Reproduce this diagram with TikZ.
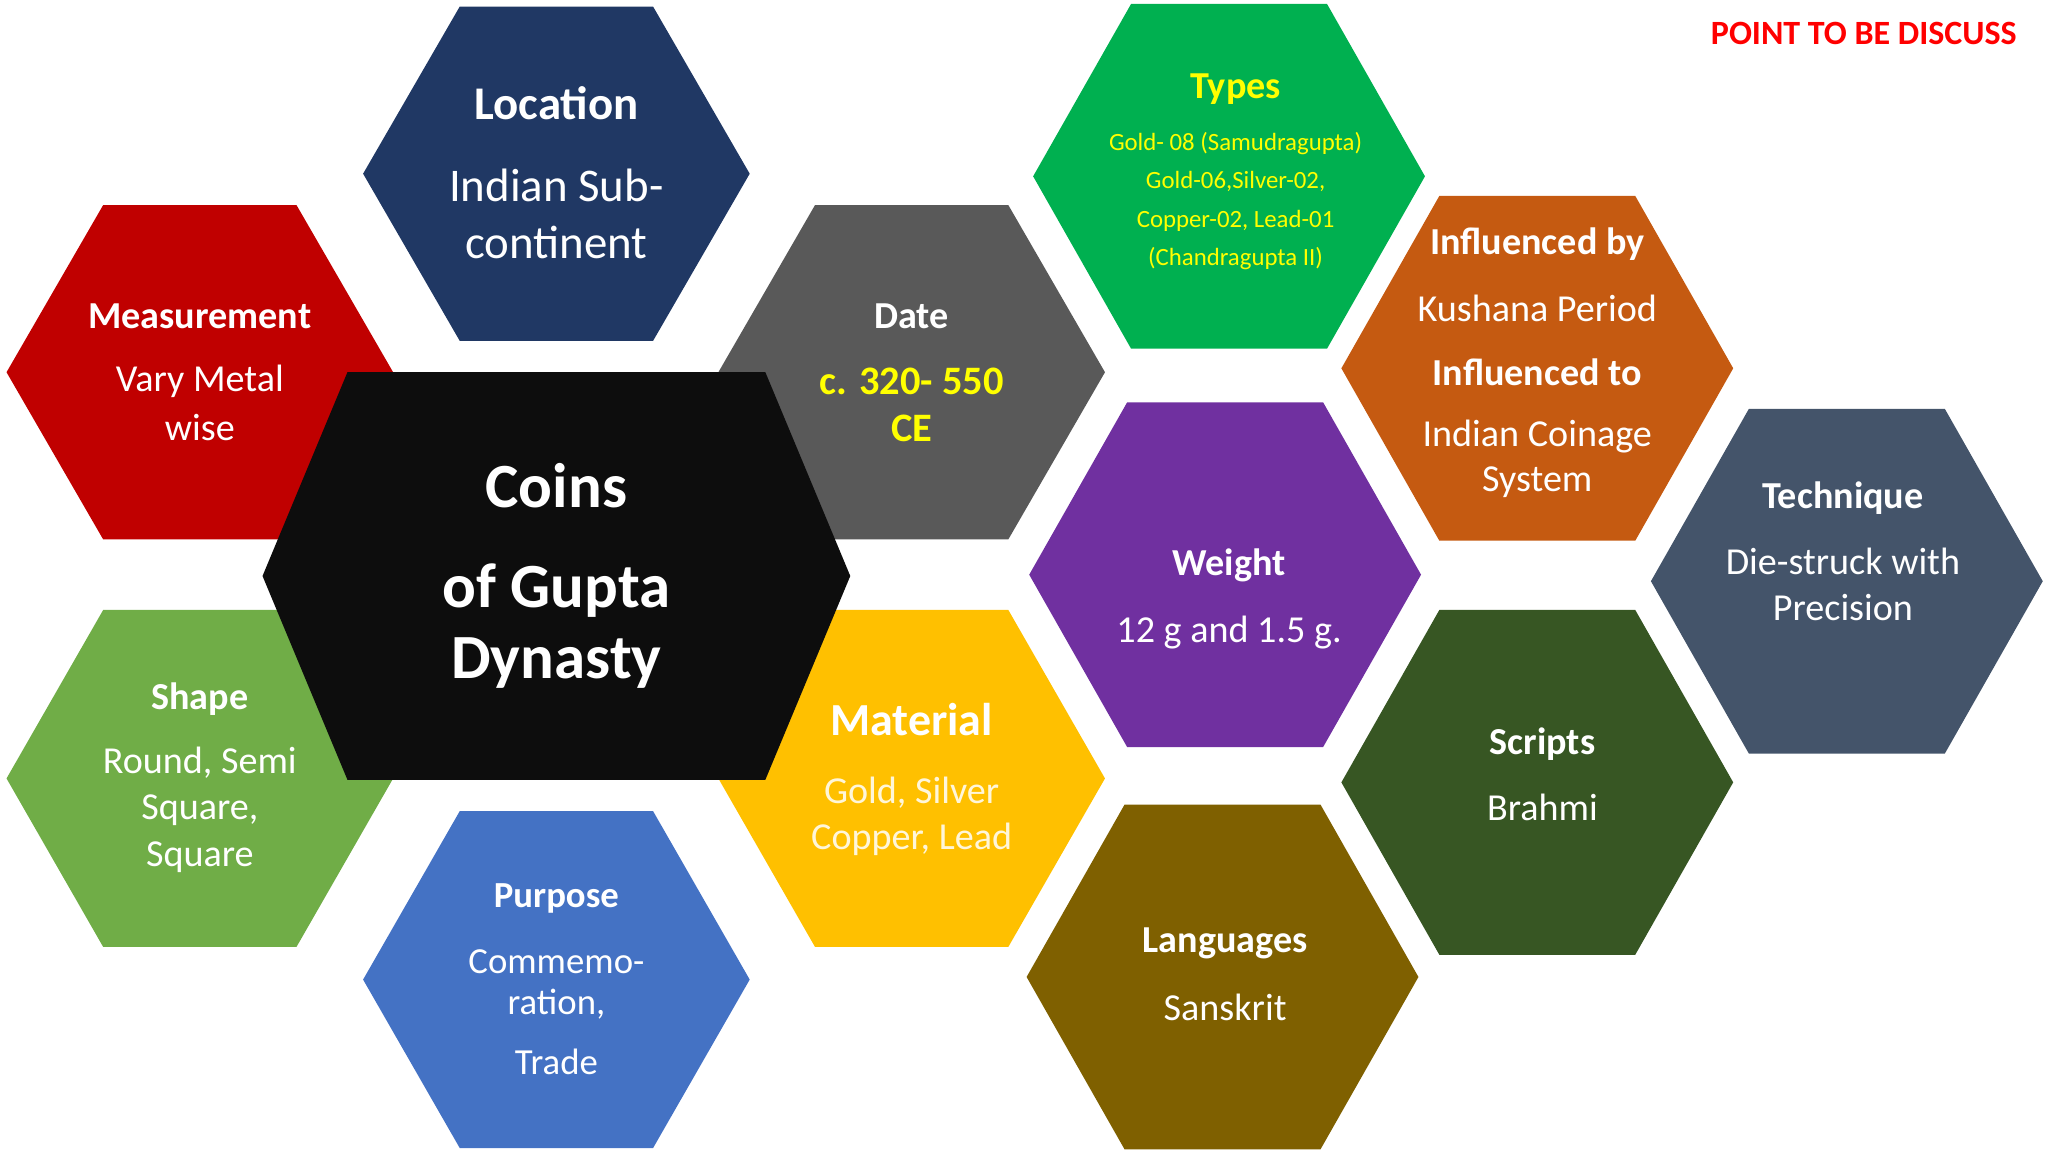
\documentclass[tikz,border=0pt]{standalone}
\usepackage{fontspec}
\setmainfont{Carlito}
\newcommand{\hexa}[7]{%
\fill[#7] ({#2-#4},#3) -- ({#2-#4+#6},{#3-#5}) -- ({#2+#4-#6},{#3-#5}) -- ({#2+#4},#3) -- ({#2+#4-#6},{#3+#5}) -- ({#2-#4+#6},{#3+#5}) -- cycle;
\coordinate (#1) at (#2,#3);}
\newcommand{\fs}[1]{\fontsize{#1pt}{#1pt}\selectfont}
\definecolor{cloc}{HTML}{203864}
\definecolor{cmea}{HTML}{C00000}
\definecolor{ccoin}{HTML}{0D0D0D}
\definecolor{cdate}{HTML}{595959}
\definecolor{ctyp}{HTML}{00B050}
\definecolor{cinf}{HTML}{C55A11}
\definecolor{cwei}{HTML}{7030A0}
\definecolor{ctec}{HTML}{44546A}
\definecolor{csha}{HTML}{70AD47}
\definecolor{cmat}{HTML}{FFC000}
\definecolor{cpur}{HTML}{4472C4}
\definecolor{clan}{HTML}{7F6000}
\definecolor{cscr}{HTML}{375623}
\definecolor{cyel}{HTML}{FFFF00}
\tikzset{tt/.style={text=white,inner sep=0pt,font=\fs{8.3}\bfseries},
bb/.style={text=white,inner sep=0pt,font=\fs{8.3}}}
\begin{document}
\begin{tikzpicture}[x=0.01cm,y=-0.01cm]
\useasboundingbox (0,0) rectangle (1568,882);
\hexa{loc}{426}{133}{148}{128}{74}{cloc}
\hexa{mea}{153}{285}{148}{128}{74}{cmea}
\hexa{date}{698}{285}{148}{128}{74}{cdate}
\hexa{typ}{941}{135}{150}{132}{75}{ctyp}
\hexa{inf}{1177}{282}{150}{132}{75}{cinf}
\hexa{wei}{938}{440}{150}{132}{75}{cwei}
\hexa{tec}{1414}{445}{150}{132}{75}{ctec}
\hexa{sha}{153}{596}{148}{129}{74}{csha}
\hexa{mat}{698}{596}{148}{129}{74}{cmat}
\hexa{pur}{426}{750}{148}{129}{74}{cpur}
\hexa{lan}{936}{748}{150}{132}{75}{clan}
\hexa{scr}{1177}{599}{150}{132}{75}{cscr}
\hexa{coin}{426}{441}{225}{156}{65}{ccoin}
% texts
\node[tt,font=\fs{10.2}\bfseries] (t1) at (426,79) {Location};
\node[bb,font=\fs{10.2}] (t2) at (426,142) {Indian Sub-};
\node[bb,font=\fs{10.2}] (t3) at (426,186) {continent};
\node[tt] (m1) at (153,242) {Measurement};
\node[bb] (m2) at (153,292) {Vary Metal};
\node[bb] (m3) at (153,327) {wise};
\node[tt,font=\fs{13.7}\bfseries] (c1) at (426,372) {Coins};
\node[tt,font=\fs{13.7}\bfseries] (c2) at (426,452) {of Gupta};
\node[tt,font=\fs{13.7}\bfseries] (c3) at (426,508) {Dynasty};
\node[tt] (d1) at (698,242) {Date};
\node[tt,text=cyel,font=\fs{8.8}\bfseries] (d2) at (698,292) {c. 320- 550};
\node[tt,text=cyel,font=\fs{8.8}\bfseries] (d3) at (698,328) {CE};
\node[tt,text=cyel] (y1) at (946,68) {Types};
\node[bb,text=cyel,font=\fs{5.4}] (y2) at (946,110) {Gold- 08 (Samudragupta)};
\node[bb,text=cyel,font=\fs{5.4}] (y3) at (946,139) {Gold-06,Silver-02,};
\node[bb,text=cyel,font=\fs{5.4}] (y4) at (946,169) {Copper-02, Lead-01};
\node[bb,text=cyel,font=\fs{5.4}] (y5) at (946,198) {(Chandragupta II)};
\node[tt] (i1) at (1177,187) {Influenced by};
\node[bb] (i2) at (1177,236) {Kushana Period};
\node[tt] (i3) at (1177,285) {Influenced to};
\node[bb] (i4) at (1177,334) {Indian Coinage};
\node[bb] (i5) at (1177,369) {System};
\node[tt] (w1) at (941,433) {Weight};
\node[bb] (w2) at (941,484) {12 g and 1.5 g.};
\node[tt] (k1) at (1411,381) {Technique};
\node[bb] (k2) at (1411,430) {Die-struck with};
\node[bb] (k3) at (1411,465) {Precision};
\node[tt] (s1) at (153,535) {Shape};
\node[bb] (s2) at (153,584) {Round, Semi};
\node[bb] (s3) at (153,620) {Square,};
\node[bb] (s4) at (153,656) {Square};
\node[tt,font=\fs{10}\bfseries] (a1) at (698,551) {Material};
\node[bb,text=white!85!cmat] (a2) at (698,607) {Gold, Silver};
\node[bb,text=white!85!cmat] (a3) at (698,643) {Copper, Lead};
\node[tt,font=\fs{8}\bfseries] (p1) at (426,688) {Purpose};
\node[bb,font=\fs{8}] (p2) at (426,736) {Commemo-};
\node[bb,font=\fs{8}] (p3) at (426,769) {ration,};
\node[bb,font=\fs{8}] (p4) at (426,813) {Trade};
\node[tt] (l1) at (938,722) {Languages};
\node[bb] (l2) at (938,771) {Sanskrit};
\node[tt] (r1) at (1181,570) {Scripts};
\node[bb] (r2) at (1181,618) {Brahmi};
\node[tt,text=red,font=\fs{7.4}\bfseries] (pt) at (1427,26) {POINT TO BE DISCUSS};
\end{tikzpicture}
\end{document}
